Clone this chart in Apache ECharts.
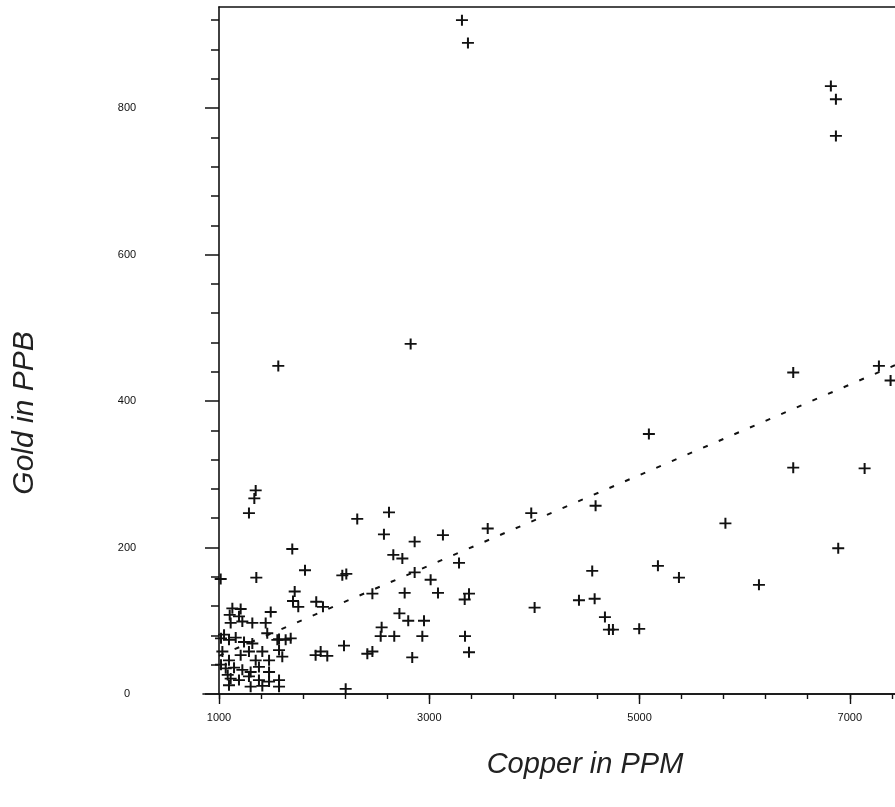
<!DOCTYPE html>
<html>
<head>
<meta charset="utf-8">
<script src="https://cdn.jsdelivr.net/npm/echarts@6/dist/echarts.min.js"></script>
<style>
    html, body {margin: 0; padding: 0; background: #fff;}
    #chart {width: 895px; height: 807px;}
</style>
</head>
<body>
<div id="chart"></div>
<script>
// copper (ppm) and gold (ppb) of each sample
const copper = [
    3311, 3368, 6820, 6868, 6868,
    1564, 2823,
    1349, 1336, 1285, 1016, 1355,
    2315, 2617, 2569, 2861, 3130, 3556,
    1697, 1818, 2173, 2211, 2658, 2744, 3283, 3013, 2861,
    1720, 1704, 1754, 1925, 1989, 1682, 1571,
    2459, 2766, 3083, 3378, 3337,
    2716, 2800, 2950, 2547, 2538, 2667, 2934, 3340, 3378, 2838, 2189,
    1919, 1967, 2030, 2411, 2459, 2205,
    6462, 5089, 7277, 7388, 6462, 7141,
    4582, 3970, 5817, 6890,
    4550, 5175, 5375, 6136,
    4002, 4424, 4573, 4671, 4709, 4747, 4997,
    1127, 1206, 1102, 1190, 1111, 1222, 1317, 1444, 1492,
    1048, 1095, 1159, 1238, 1317, 1459, 1555, 1634, 1571, 1602,
    1032, 1095, 1206, 1285, 1349, 1412, 1476, 1380,
    1064, 1143, 1222, 1301,
    1111, 1190, 1285, 1380, 1095, 1301, 1412, 1476, 1571, 1571, 1476,
    1019, 1019, 1083
];
const gold = [
    920, 889, 830, 812, 762,
    448, 478,
    278, 267, 247, 157, 159,
    239, 248, 218, 208, 217, 226,
    198, 169, 162, 164, 190, 185, 179, 156, 166,
    140, 127, 119, 126, 119, 76, 75,
    137, 138, 138, 137, 129,
    110, 100, 100, 91, 79, 79, 79, 79, 57, 50, 66,
    53, 58, 52, 55, 58, 7,
    439, 355, 448, 428, 309, 308,
    257, 247, 233, 199,
    168, 175, 159, 149,
    118, 128, 130, 105, 88, 88, 89,
    117, 116, 108, 106, 97, 99, 97, 97, 112,
    81, 74, 77, 71, 69, 83, 74, 74, 60, 51,
    58, 46, 53, 58, 46, 58, 46, 37,
    35, 36, 33, 30,
    21, 19, 24, 19, 12, 10, 11, 17, 19, 10, 30,
    76, 40, 26
];

// dashed fitted line, end points
const fitCopper = [1000, 7430];
const fitGold = [52, 449];

const xLabels = [1000, 3000, 5000, 7000];
const xTicks = [1000, 1400, 1800, 2200, 2600, 3000, 3400, 3800, 4200, 4600,
    5000, 5400, 5800, 6200, 6600, 7000, 7400];
const yLabels = [0, 200, 400, 600, 800];
const yTicks = [0, 40, 80, 120, 160, 200, 240, 280, 320, 360, 400, 440, 480,
    520, 560, 600, 640, 680, 720, 760, 800, 840, 880, 920];

const ink = '#111';
const fontFamily = 'Liberation Sans';

let myChart = echarts.init(document.getElementById('chart'));

const points = copper.map((c, i) => [c, gold[i]]);
const fitLine = fitCopper.map((c, i) => [c, fitGold[i]]);
const plain = v => String(v);

// the plot box is cut by the right edge of the picture, near 7430 ppm
const xBase = {
    gridIndex: 0,
    type: 'value',
    min: 1000,
    max: 7430,
    position: 'bottom',
    splitLine: {show: false}
};
const yBase = {
    gridIndex: 0,
    type: 'value',
    min: 0,
    max: 938,
    position: 'left',
    splitLine: {show: false}
};

let option = {
    animation: false,
    backgroundColor: '#fff',
    grid: [
        {left: 219, right: 0, top: 7, bottom: 113},
        // only used to let the x axis line run a bit left of the y axis
        {left: 203, right: 0, top: 7, bottom: 113}
    ],
    xAxis: [
        Object.assign({}, xBase, {
            axisLine: {show: true, onZero: false, lineStyle: {color: ink, width: 1.6}},
            axisTick: {show: true, length: 10, customValues: xLabels, lineStyle: {color: ink, width: 1.4}},
            axisLabel: {
                customValues: xLabels,
                formatter: plain,
                margin: 18,
                color: ink,
                fontSize: 11,
                fontFamily: fontFamily
            }
        }),
        Object.assign({}, xBase, {
            axisLine: {show: false},
            axisTick: {show: true, length: 5, customValues: xTicks, lineStyle: {color: ink, width: 1.4}},
            axisLabel: {show: false}
        }),
        Object.assign({}, xBase, {
            position: 'top',
            axisLine: {show: true, onZero: false, lineStyle: {color: ink, width: 1.6}},
            axisTick: {show: false},
            axisLabel: {show: false}
        }),
        {
            gridIndex: 1,
            type: 'value',
            min: 0,
            max: 1,
            position: 'bottom',
            axisLine: {show: true, onZero: false, lineStyle: {color: ink, width: 1.6}},
            axisTick: {show: false},
            axisLabel: {show: false},
            splitLine: {show: false}
        }
    ],
    yAxis: [
        Object.assign({}, yBase, {
            axisLine: {show: true, onZero: false, lineStyle: {color: ink, width: 1.6}},
            axisTick: {show: true, length: 14, customValues: yLabels, lineStyle: {color: ink, width: 1.5}},
            axisLabel: {
                customValues: yLabels,
                formatter: plain,
                margin: 92,
                align: 'center',
                color: ink,
                fontSize: 11,
                fontFamily: fontFamily
            }
        }),
        Object.assign({}, yBase, {
            axisLine: {show: false},
            axisTick: {show: true, length: 8, customValues: yTicks, lineStyle: {color: ink, width: 1.5}},
            axisLabel: {show: false}
        }),
        {
            gridIndex: 1,
            type: 'value',
            min: 0,
            max: 1,
            show: false
        }
    ],
    graphic: [
        {
            type: 'text',
            x: 585,
            y: 765,
            style: {
                text: 'Copper in PPM',
                font: 'italic 29px "' + fontFamily + '"',
                fill: '#222',
                align: 'center',
                verticalAlign: 'middle'
            }
        },
        {
            type: 'text',
            x: 25,
            y: 413,
            rotation: Math.PI / 2,
            style: {
                text: 'Gold in PPB',
                font: 'italic 30px "' + fontFamily + '"',
                fill: '#222',
                align: 'center',
                verticalAlign: 'middle'
            }
        }
    ],
    series: [
        {
            name: 'fit',
            type: 'line',
            xAxisIndex: 0,
            yAxisIndex: 0,
            data: fitLine,
            showSymbol: false,
            silent: true,
            lineStyle: {color: ink, width: 2, type: [5, 12]},
            z: 2
        },
        {
            name: 'samples',
            type: 'scatter',
            xAxisIndex: 0,
            yAxisIndex: 0,
            data: points,
            symbol: 'path://M0,5H12V7H0Z M5,0H7V12H5Z',
            symbolSize: [12, 11],
            itemStyle: {color: ink, opacity: 1},
            z: 3
        }
    ]
};

myChart.setOption(option);
</script>
</body>
</html>
